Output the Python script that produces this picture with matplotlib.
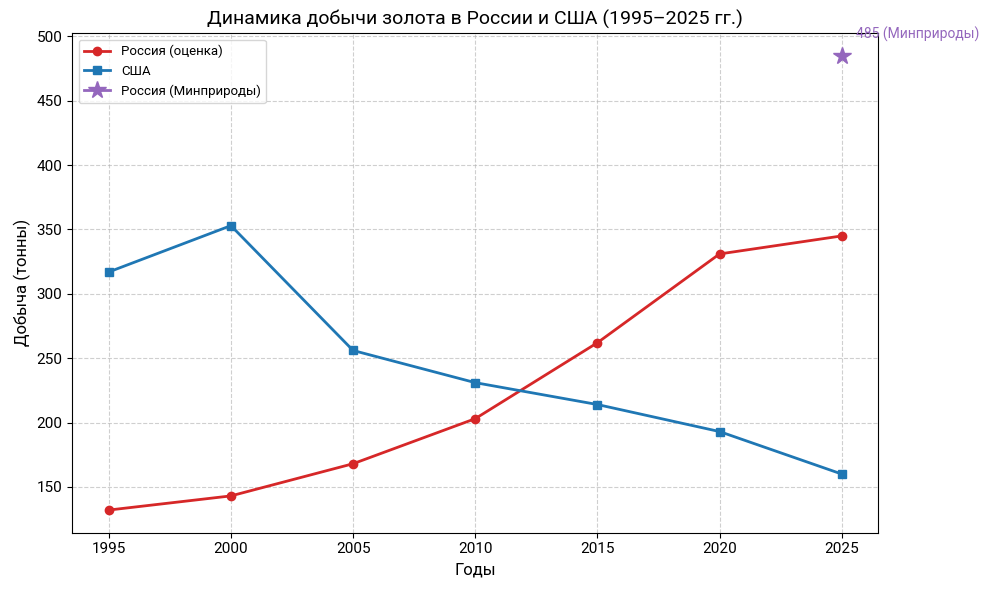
import matplotlib
matplotlib.use("Agg")
import matplotlib.pyplot as plt

plt.rcParams['font.family'] = ['Roboto', 'DejaVu Sans']

years = [1995, 2000, 2005, 2010, 2015, 2020, 2025]
russia_est = [132, 143, 168, 203, 262, 331, 345]
usa = [317, 353, 256, 231, 214, 193, 160]
minprirody_year = [2025]
minprirody_val = [485]
annot_text = "485 (Минприроды)"

fig, ax = plt.subplots(figsize=(9.88, 5.9), dpi=100)
ax.plot(years, russia_est, color='#d62728', marker='o', linewidth=2, markersize=6, label='Россия (оценка)')
ax.plot(years, usa, color='#1f77b4', marker='s', linewidth=2, markersize=6, label='США')
ax.plot(minprirody_year, minprirody_val, color='#9467bd', marker='*', markersize=13, linestyle='-', linewidth=2,
        label='Россия (Минприроды)')
ax.annotate(annot_text, xy=(minprirody_year[0], minprirody_val[0]), xytext=(10, 10),
            textcoords='offset points', color='#9467bd', fontsize=10, ha='left', va='bottom')

ax.set_title('Динамика добычи золота в России и США (1995–2025 гг.)', fontsize=14)
ax.set_xlabel('Годы', fontsize=12)
ax.set_ylabel('Добыча (тонны)', fontsize=12)
ax.set_xticks(years)
ax.tick_params(labelsize=11)
ax.grid(True, linestyle='--', alpha=0.6)
ax.legend(loc='upper left', fontsize=9.5)
fig.subplots_adjust(left=0.073, right=0.889, top=0.944, bottom=0.097)
fig.savefig('out.png', dpi=100)
